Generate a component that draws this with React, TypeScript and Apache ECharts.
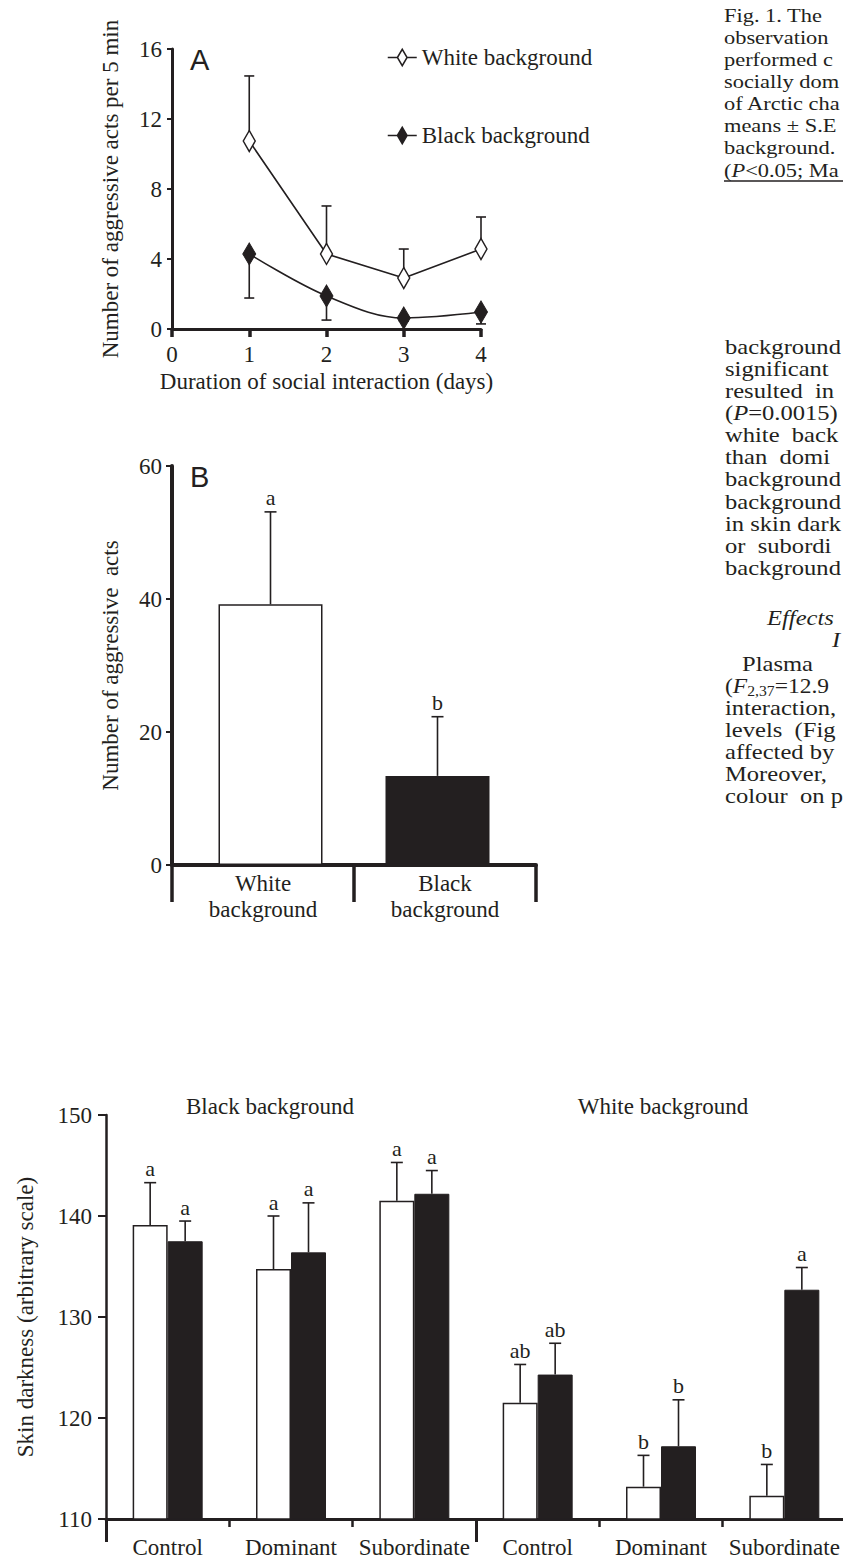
import React, { useEffect, useRef } from 'react';
import * as echarts from 'echarts';

const INK = '#231f20';
const SERIF = '"Liberation Serif", "Times New Roman", Times, serif';
const SANS = '"Liberation Sans", Arial, Helvetica, sans-serif';

// ---------- Panel A ----------
const DAYS_A = [1, 2, 3, 4];
const WHITE_MEAN_A = [10.74, 4.29, 2.91, 4.57];
const WHITE_SE_A = [3.72, 2.74, 1.66, 1.83];
const BLACK_MEAN_A = [4.29, 1.89, 0.63, 0.97];
const BLACK_SE_A = [2.52, 1.38, 0.18, 0.68];
const SERIES_A = ['White background', 'Black background'];

// ---------- Panel B ----------
const CAT_B = ['White\nbackground', 'Black\nbackground'];
const MEAN_B = [39.2, 13.4];
const SE_B = [13.9, 8.9];
const LETTER_B = ['a', 'b'];

// ---------- Panel C ----------
const CAT_C = ['Control', 'Dominant', 'Subordinate', 'Control', 'Dominant', 'Subordinate'];
const GROUP_C = ['Black background', 'White background'];
const WHITE_MEAN_C = [139.1, 134.75, 141.5, 121.5, 113.2, 112.3];
const WHITE_SE_C = [4.2, 5.25, 3.8, 3.8, 3.1, 3.1];
const BLACK_MEAN_C = [137.5, 136.4, 142.2, 124.3, 117.2, 132.7];
const BLACK_SE_C = [2.0, 4.9, 2.3, 3.1, 4.6, 2.2];
const WHITE_LETTER_C = ['a', 'a', 'a', 'ab', 'b', 'b'];
const BLACK_LETTER_C = ['a', 'a', 'a', 'ab', 'b', 'a'];

// ---------- Page text ----------
const CAPTION_LINES = [
  'Fig. 1. The',
  'observation',
  'performed c',
  'socially dom',
  'of Arctic cha',
  'means \u00b1 S.E',
  'background.',
  '({i|P}<0.05; Ma',
];
const BODY_LINES_1 = [
  'background',
  'significant',
  'resulted  in',
  '({i|P}=0.0015)',
  'white  back',
  'than  domi',
  'background',
  'background',
  'in skin dark',
  'or  subordi',
  'background',
];
const BODY_HEAD = ['Effects', 'I'];
const BODY_LINES_2 = [
  'Plasma',
  '({i|F}{s|2,37}=12.9',
  'interaction,',
  'levels  (Fig',
  'affected by',
  'Moreover,',
  'colour  on p',
];

const BAR_C = 35;
const BAR_B = 104;
const GAP_B = -89; // px overlap between the two panel-B series slots

function errRender(dir: number, offsets: number[], letters: string[] | null, cap: number) {
  return (params: any, api: any) => {
    const x = api.value(0);
    const m = api.value(1);
    const e = api.value(2);
    const p0 = api.coord([x, m]);
    const p1 = api.coord([x, m + dir * e]);
    const cx = p0[0] + offsets[params.dataIndex % offsets.length];
    const ls = { stroke: INK, lineWidth: 1.6 };
    const children: any[] = [
      { type: 'line', shape: { x1: cx, y1: p0[1], x2: cx, y2: p1[1] }, style: ls },
      { type: 'line', shape: { x1: cx - cap, y1: p1[1], x2: cx + cap, y2: p1[1] }, style: ls },
    ];
    if (letters) {
      children.push({
        type: 'text',
        x: cx,
        y: p1[1] - 3,
        style: {
          text: letters[params.dataIndex],
          fill: INK,
          fontFamily: SERIF,
          fontSize: 22,
          align: 'center',
          verticalAlign: 'bottom',
          textAlign: 'center',
          textVerticalAlign: 'bottom',
        },
      });
    }
    return { type: 'group', children };
  };
}

function textEl(x: number, y: number, text: string, size: number, sx: number, extra: any = {}) {
  return {
    type: 'text',
    x,
    y,
    scaleX: sx,
    silent: true,
    style: {
      text,
      fill: INK,
      fontFamily: SERIF,
      fontSize: size,
      align: 'left',
      verticalAlign: 'middle',
      textAlign: 'left',
      textVerticalAlign: 'middle',
      rich: {
        i: { fontStyle: 'italic', fontFamily: SERIF, fontSize: size, fill: INK },
        s: { fontFamily: SERIF, fontSize: Math.round(size * 0.65), fill: INK, padding: [10, 0, 0, 0] },
      },
      ...extra,
    },
  };
}

const labelText = { color: INK, fontFamily: SERIF, fontSize: 23 };

function buildOption() {
  const graphics: any[] = [];
  graphics.push(textEl(190, 60, 'A', 29, 1, { fontFamily: SANS }));
  graphics.push(textEl(190, 477, 'B', 29, 1, { fontFamily: SANS }));
  graphics.push(textEl(270, 1106, GROUP_C[0], 23, 1, { align: 'center', textAlign: 'center' }));
  graphics.push(textEl(663, 1106, GROUP_C[1], 23, 1, { align: 'center', textAlign: 'center' }));
  // caption (figure legend) column, clipped by the page edge in the source
  CAPTION_LINES.forEach((t, i) => graphics.push(textEl(724, 15 + i * 22.1, t, 19, 1.18)));
  graphics.push({
    type: 'line',
    silent: true,
    shape: { x1: 724, y1: 181, x2: 843, y2: 181 },
    style: { stroke: INK, lineWidth: 1.5 },
  });
  // body text column
  BODY_LINES_1.forEach((t, i) => graphics.push(textEl(725, 347 + i * 22.1, t, 21, 1.17)));
  graphics.push(textEl(767, 618, BODY_HEAD[0], 21, 1.17, { fontStyle: 'italic' }));
  graphics.push(textEl(832, 640, BODY_HEAD[1], 21, 1.17, { fontStyle: 'italic' }));
  BODY_LINES_2.forEach((t, i) =>
    graphics.push(textEl(i === 0 ? 742 : 725, 664 + i * 22.1, t, 21, i === 1 ? 1.12 : 1.17)),
  );

  // panel B: the black series occupies the first slot, the white one the second,
  // with overlapping slots so each bar sits slightly off its category centre
  const shiftB = (BAR_B + GAP_B) / 2;

  return {
    animation: false,
    backgroundColor: '#ffffff',
    textStyle: { fontFamily: SERIF, color: INK },
    grid: [
      { left: 172, top: 49, width: 309, height: 280, outerBoundsMode: 'none' },
      { left: 172, top: 466, width: 364, height: 399, outerBoundsMode: 'none' },
      { left: 106, top: 1115, width: 740, height: 404, outerBoundsMode: 'none' },
    ],
    legend: {
      left: 382,
      top: 41,
      orient: 'vertical',
      itemWidth: 29,
      itemHeight: 20,
      itemGap: 55,
      selectedMode: false,
      textStyle: { color: INK, fontFamily: SERIF, fontSize: 23 },
      data: [
        {
          name: SERIES_A[0],
          icon: 'path://M0,10L10,10M10,10L15,1.5L20,10L15,18.5ZM20,10L30,10',
          itemStyle: { color: '#ffffff', borderColor: INK, borderWidth: 1.5 },
        },
        {
          name: SERIES_A[1],
          icon: 'path://M0,10L10,10M10,10L15,1.5L20,10L15,18.5ZM20,10L30,10',
          itemStyle: { color: INK, borderColor: INK, borderWidth: 1.5 },
        },
      ],
    },
    xAxis: [
      {
        type: 'value',
        gridIndex: 0,
        min: 0,
        max: 4,
        interval: 1,
        axisLine: { show: true, lineStyle: { color: INK, width: 3 } },
        axisTick: { show: true, length: 8, lineStyle: { color: INK, width: 3.5 } },
        axisLabel: { ...labelText, margin: 14 },
        splitLine: { show: false },
        name: 'Duration of social interaction (days)',
        nameLocation: 'middle',
        nameGap: 41,
        nameTextStyle: { ...labelText },
      },
      {
        type: 'category',
        gridIndex: 1,
        data: CAT_B,
        axisLine: { show: true, lineStyle: { color: INK, width: 4 } },
        axisTick: { show: true, length: 37, lineStyle: { color: INK, width: 3.5 } },
        axisLabel: { ...labelText, margin: 5, lineHeight: 26, interval: 0 },
      },
      {
        type: 'category',
        gridIndex: 2,
        data: CAT_C,
        axisLine: { show: true, lineStyle: { color: INK, width: 3 } },
        axisTick: { show: true, length: 8, lineStyle: { color: INK, width: 2.5 } },
        axisLabel: { ...labelText, margin: 17, interval: 0, hideOverlap: false },
      },
      {
        type: 'category',
        gridIndex: 2,
        position: 'bottom',
        data: GROUP_C,
        axisLine: { show: false },
        axisTick: { show: true, length: 23, lineStyle: { color: INK, width: 3 } },
        axisLabel: { show: false },
      },
    ],
    yAxis: [
      {
        type: 'value',
        gridIndex: 0,
        min: 0,
        max: 16,
        interval: 4,
        axisLine: { show: true, lineStyle: { color: INK, width: 3 } },
        axisTick: { show: true, length: 5, lineStyle: { color: INK, width: 2 } },
        axisLabel: { ...labelText, margin: 10 },
        splitLine: { show: false },
        name: 'Number of aggressive acts per 5 min',
        nameLocation: 'middle',
        nameGap: 50,
        nameTextStyle: { ...labelText },
      },
      {
        type: 'value',
        gridIndex: 1,
        min: 0,
        max: 60,
        interval: 20,
        axisLine: { show: true, lineStyle: { color: INK, width: 4 } },
        axisTick: { show: true, length: 6, lineStyle: { color: INK, width: 2 } },
        axisLabel: { ...labelText, margin: 10 },
        splitLine: { show: false },
        name: 'Number of aggressive  acts',
        nameLocation: 'middle',
        nameGap: 50,
        nameTextStyle: { ...labelText },
      },
      {
        type: 'value',
        gridIndex: 2,
        min: 110,
        max: 150,
        interval: 10,
        axisLine: { show: true, lineStyle: { color: INK, width: 2.5 } },
        axisTick: { show: true, length: 8, lineStyle: { color: INK, width: 2 } },
        axisLabel: { ...labelText, margin: 14 },
        splitLine: { show: false },
        name: 'Skin darkness (arbitrary scale)',
        nameLocation: 'middle',
        nameGap: 69,
        nameTextStyle: { ...labelText },
      },
    ],
    series: [
      // Panel A error bars
      {
        type: 'custom',
        xAxisIndex: 0,
        yAxisIndex: 0,
        z: 1,
        silent: true,
        renderItem: errRender(1, [0], null, 5),
        encode: { x: 0, y: 1 },
        data: DAYS_A.map((d, i) => [d, WHITE_MEAN_A[i], WHITE_SE_A[i]]),
      },
      {
        type: 'custom',
        xAxisIndex: 0,
        yAxisIndex: 0,
        z: 1,
        silent: true,
        renderItem: errRender(-1, [0], null, 5),
        encode: { x: 0, y: 1 },
        data: DAYS_A.map((d, i) => [d, BLACK_MEAN_A[i], BLACK_SE_A[i]]),
      },
      {
        name: SERIES_A[0],
        type: 'line',
        xAxisIndex: 0,
        yAxisIndex: 0,
        z: 3,
        symbol: 'diamond',
        symbolSize: [12, 21],
        itemStyle: { color: '#ffffff', borderColor: INK, borderWidth: 1.5 },
        lineStyle: { color: INK, width: 1.6 },
        data: DAYS_A.map((d, i) => [d, WHITE_MEAN_A[i]]),
      },
      {
        name: SERIES_A[1],
        type: 'line',
        xAxisIndex: 0,
        yAxisIndex: 0,
        z: 3,
        smooth: 0.35,
        symbol: 'diamond',
        symbolSize: [13, 22],
        itemStyle: { color: INK, borderColor: INK, borderWidth: 1 },
        lineStyle: { color: INK, width: 1.6 },
        data: DAYS_A.map((d, i) => [d, BLACK_MEAN_A[i]]),
      },
      // Panel B bars (black slot first, white slot second)
      {
        name: 'B black',
        type: 'bar',
        xAxisIndex: 1,
        yAxisIndex: 1,
        barWidth: BAR_B,
        barGap: `${(GAP_B / BAR_B) * 100}%`,
        z: 2,
        itemStyle: { color: INK, borderColor: INK, borderWidth: 1.5 },
        data: MEAN_B.map((v, i) => (i === 1 ? v : '-')),
      },
      {
        name: 'B white',
        type: 'bar',
        xAxisIndex: 1,
        yAxisIndex: 1,
        barWidth: BAR_B,
        barGap: `${(GAP_B / BAR_B) * 100}%`,
        z: 2,
        itemStyle: { color: '#ffffff', borderColor: INK, borderWidth: 1.5 },
        data: MEAN_B.map((v, i) => (i === 0 ? v : '-')),
      },
      {
        type: 'custom',
        xAxisIndex: 1,
        yAxisIndex: 1,
        z: 1,
        silent: true,
        renderItem: errRender(1, [shiftB, -shiftB], LETTER_B, 6),
        encode: { x: 0, y: 1 },
        data: MEAN_B.map((v, i) => [i, v, SE_B[i]]),
      },
      // Panel C
      {
        name: 'C white',
        type: 'bar',
        xAxisIndex: 2,
        yAxisIndex: 2,
        barWidth: BAR_C,
        barGap: '0%',
        z: 2,
        itemStyle: { color: '#ffffff', borderColor: INK, borderWidth: 1.5 },
        data: WHITE_MEAN_C,
      },
      {
        name: 'C black',
        type: 'bar',
        xAxisIndex: 2,
        yAxisIndex: 2,
        barWidth: BAR_C,
        barGap: '0%',
        z: 2,
        itemStyle: { color: INK, borderColor: INK, borderWidth: 1 },
        data: BLACK_MEAN_C,
      },
      {
        type: 'custom',
        xAxisIndex: 2,
        yAxisIndex: 2,
        z: 1,
        silent: true,
        renderItem: errRender(1, [-BAR_C / 2], WHITE_LETTER_C, 6),
        encode: { x: 0, y: 1 },
        data: WHITE_MEAN_C.map((v, i) => [i, v, WHITE_SE_C[i]]),
      },
      {
        type: 'custom',
        xAxisIndex: 2,
        yAxisIndex: 2,
        z: 1,
        silent: true,
        renderItem: errRender(1, [BAR_C / 2], BLACK_LETTER_C, 6),
        encode: { x: 0, y: 1 },
        data: BLACK_MEAN_C.map((v, i) => [i, v, BLACK_SE_C[i]]),
      },
    ],
    graphic: { elements: graphics },
  };
}

export default function App() {
  const ref = useRef<HTMLDivElement>(null);
  useEffect(() => {
    document.body.style.margin = '0';
    const chart = echarts.init(ref.current as HTMLDivElement, null, { renderer: 'svg' });
    chart.setOption(buildOption() as any);
    return () => chart.dispose();
  }, []);
  return (
    <div
      ref={ref}
      style={{ position: 'absolute', left: 0, top: 0, width: 843, height: 1561, background: '#ffffff' }}
    />
  );
}
